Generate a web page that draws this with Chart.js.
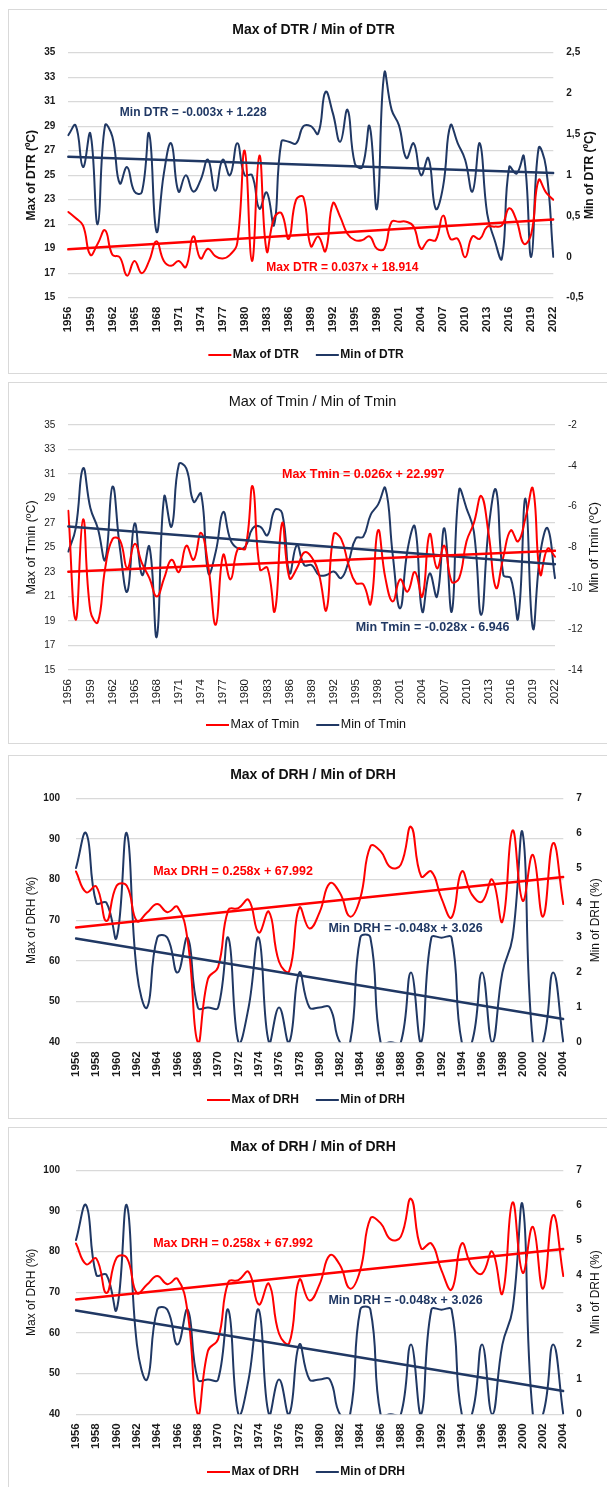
<!DOCTYPE html>
<html>
<head>
<meta charset="utf-8">
<script src="https://cdn.jsdelivr.net/npm/chart.js@4.4.0/dist/chart.umd.min.js"></script>
<style>
  html, body { margin: 0; padding: 0; background: #fff; }
  body { width: 607px; height: 1487px; position: relative; overflow: hidden; font-family: "Liberation Sans", Arial, sans-serif; }
  .panel { position: absolute; left: 8px; width: 600px; border: 1px solid #d9d9d9; box-sizing: border-box; background: #fff; }
  .panel canvas { position: absolute; left: 0; top: 0; }
</style>
</head>
<body>
<div class="panel" style="top:9px;height:365px"><canvas id="c1" width="598" height="363"></canvas></div>
<div class="panel" style="top:382px;height:362px"><canvas id="c2" width="598" height="360"></canvas></div>
<div class="panel" style="top:755px;height:364px"><canvas id="c3" width="598" height="362"></canvas></div>
<div class="panel" style="top:1127px;height:364px"><canvas id="c4" width="598" height="362"></canvas></div>

<script>
// ---------------- DATA ----------------
const yearsDTR = [];
for (let y = 1956; y <= 2022; y++) yearsDTR.push(String(y));
const yearsDRH = [];
for (let y = 1956; y <= 2004; y++) yearsDRH.push(String(y));

// Panel 1: Max of DTR (left axis, ºC) / Min of DTR (right axis, ºC)
const maxDTR = [22.0, 21.5, 20.9, 18.5, 19.4, 20.5, 18.5, 18.3, 16.8, 18.0,
                17.0, 18.0, 19.6, 18.0, 17.6, 18.0, 17.5, 20.0, 18.2, 19.0,
                18.4, 18.2, 18.5, 19.5, 27.0, 18.0, 26.6, 18.8, 21.5, 21.9,
                19.8, 23.0, 23.2, 19.2, 20.0, 18.8, 22.7, 21.6, 20.2, 19.7,
                19.7, 20.0, 19.0, 19.0, 21.2, 21.2, 21.2, 20.8, 19.0, 19.7,
                19.7, 21.7, 19.8, 19.8, 18.3, 20.0, 19.8, 20.8, 20.8, 20.9,
                22.3, 21.3, 19.4, 20.2, 24.6, 23.6, 23.0];
const minDTR = [1.49, 1.61, 1.10, 1.51, 0.40, 1.61, 1.47, 0.90, 1.10, 0.80,
                0.79, 1.51, 0.31, 1.02, 1.39, 0.80, 1.00, 0.80, 0.94, 1.19,
                0.81, 1.19, 1.00, 1.39, 1.00, 1.00, 0.59, 0.79, 0.39, 1.41,
                1.41, 1.39, 1.60, 1.60, 1.51, 2.02, 1.76, 1.41, 1.80, 1.14,
                1.10, 1.60, 0.59, 2.25, 1.80, 1.61, 1.21, 1.39, 1.00, 1.21,
                0.59, 0.86, 1.61, 1.39, 1.19, 0.80, 1.39, 0.53, 0.21, -0.02,
                1.10, 1.02, 1.23, 0.00, 1.33, 1.10, 0.00];
const maxDTRTrend = [18.95, 21.39];   // trend line values at 1956 and 2022
const minDTRTrend = [1.225, 1.027];

// Panel 2: Max of Tmin (left axis) / Min of Tmin (right axis)
const maxTmin = [28.0, 19.1, 27.3, 19.8, 18.9, 23.3, 25.7, 25.6, 23.3, 25.3,
                 23.7, 22.5, 21.0, 22.5, 24.0, 23.0, 25.15, 24.0, 26.2, 23.4,
                 18.7, 24.4, 22.4, 24.9, 24.9, 30.0, 23.2, 23.35, 19.8, 27.0,
                 22.5, 23.3, 24.6, 24.2, 22.8, 19.9, 26.1, 25.7, 23.6, 22.1,
                 22.0, 20.4, 26.4, 22.5, 20.6, 22.4, 21.4, 23.0, 21.0, 26.1,
                 23.3, 25.15, 22.2, 22.5, 25.5, 27.0, 29.2, 26.1, 21.7, 24.25,
                 26.4, 25.5, 27.4, 29.8, 22.8, 24.9, 24.25];
const minTmin = [-8.2, -7.06, -4.12, -6.08, -7.06, -8.6, -5.02, -8.04, -10.16, -6.82,
                 -9.35, -7.96, -12.37, -5.51, -6.98, -3.92, -4.12, -5.76, -5.36, -9.26,
                 -8.2, -6.26, -7.64, -8.04, -7.96, -7.06, -6.98, -7.4, -6.16, -6.32,
                 -9.26, -7.88, -8.86, -8.86, -9.35, -9.35, -9.18, -9.5, -8.7, -7.55,
                 -7.47, -6.4, -5.9, -5.1, -8.37, -10.98, -8.12, -6.98, -11.14, -9.27,
                 -10.4, -7.06, -11.14, -5.18, -6.08, -7.22, -11.3, -7.06, -5.18, -9.35,
                 -9.5, -11.47, -5.6, -11.96, -8.3, -7.06, -9.5];
const maxTminTrend = [23.02, 24.74];
const minTminTrend = [-6.97, -8.82];

// Panels 3 & 4: Max of DRH (left axis, %) / Min of DRH (right axis, %)
const maxDRH = [82, 76.9, 78.3, 69.8, 78.5, 78.5, 69.8, 71.9, 74, 72,
                73.3, 65, 40, 55.6, 58.5, 72.5, 73, 75, 67, 72.1,
                59.8, 57.5, 73.1, 68, 72, 79.1, 76.7, 70.9, 75.4, 88.2,
                87, 83, 83.7, 93, 80.8, 82, 75.4, 70.7, 82, 76.3,
                74.6, 80, 69.7, 92.1, 74.8, 86.1, 70.9, 89, 74];
const minDRH = [5, 6, 4, 4, 3, 6, 2, 1, 3, 3,
                2, 3, 1, 1, 1, 3, 0, 1, 3, 0,
                1, 0, 2, 1, 1, 1, 0, 0, 3, 3,
                0, 0, 0, 2, 0, 3, 3, 3, 0, 0,
                2, 0, 2, 3, 6, 0, 0, 2, 0];
const maxDRHTrend = [68.25, 80.63];
const minDRHTrend = [2.98, 0.67];

// ---------------- DRAWING ----------------
const RED = '#ff0000';
const NAVY = '#203864';
const FONT = "'Liberation Sans', Arial, sans-serif";
Chart.defaults.font.family = FONT;
Chart.defaults.color = '#1a1a1a';

const decorPlugin = {
  id: 'decor',
  afterDraw(chart, args, o) {
    const ctx = chart.ctx, a = chart.chartArea;
    ctx.save();
    ctx.textAlign = 'center';
    ctx.textBaseline = 'middle';
    ctx.fillStyle = '#111';
    ctx.font = o.titleFont;
    ctx.fillText(o.title, o.titleX, o.titleY);

    const cy = (a.top + a.bottom) / 2;
    ctx.font = o.axisFont;
    [[o.leftTitle, o.leftX], [o.rightTitle, o.rightX]].forEach(([t, x]) => {
      ctx.save();
      ctx.translate(x, cy);
      ctx.rotate(-Math.PI / 2);
      ctx.fillText(t, 0, 0);
      ctx.restore();
    });

    ctx.font = o.eqFont;
    o.equations.forEach(e => {
      ctx.fillStyle = e.color;
      ctx.fillText(e.text, chart.scales.x.getPixelForValue(e.xi), chart.scales[e.axis].getPixelForValue(e.v));
    });

    ctx.font = o.legendFont;
    ctx.textAlign = 'left';
    const items = [
      { text: chart.data.datasets[2].label, color: RED },
      { text: chart.data.datasets[3].label, color: NAVY }
    ];
    const L = 23, G = 1.5, S = 17;
    const widths = items.map(it => L + G + ctx.measureText(it.text).width);
    let x = o.legendCX - (widths[0] + S + widths[1]) / 2;
    items.forEach((it, i) => {
      ctx.strokeStyle = it.color;
      ctx.lineWidth = 2;
      ctx.beginPath();
      ctx.moveTo(x, o.legendY);
      ctx.lineTo(x + L, o.legendY);
      ctx.stroke();
      ctx.fillStyle = '#111';
      ctx.fillText(it.text, x + L + G, o.legendY);
      x += widths[i] + S;
    });
    ctx.restore();
  }
};

function trendSeries(t, n) {
  return Array.from({ length: n }, (_, i) => i === 0 ? t[0] : (i === n - 1 ? t[1] : null));
}

function buildChart(id, o) {
  const canvas = document.getElementById(id);
  const W = canvas.width, H = canvas.height;
  const n = o.labels.length;
  const fmt = v => String(v).replace('.', ',');
  return new Chart(canvas, {
    type: 'line',
    data: {
      labels: o.labels,
      datasets: [
        { label: 'maxTrend', data: trendSeries(o.maxTrend, n), yAxisID: 'y', borderColor: RED, borderWidth: 2.5, tension: 0, spanGaps: true, pointRadius: 0 },
        { label: 'minTrend', data: trendSeries(o.minTrend, n), yAxisID: 'y1', borderColor: NAVY, borderWidth: 2.5, tension: 0, spanGaps: true, pointRadius: 0 },
        { label: o.maxName, data: o.maxData, yAxisID: 'y', borderColor: RED, borderWidth: 2, tension: 0.45, pointRadius: 0 },
        { label: o.minName, data: o.minData, yAxisID: 'y1', borderColor: NAVY, borderWidth: 2, tension: 0.45, pointRadius: 0 }
      ]
    },
    options: {
      responsive: false,
      animation: false,
      devicePixelRatio: 1,
      events: [],
      layout: { padding: { top: o.area.t, left: 0, right: 0, bottom: 0 } },
      elements: { line: { capBezierPoints: false, borderCapStyle: 'round', borderJoinStyle: 'round' } },
      plugins: {
        legend: { display: false },
        title: { display: false },
        tooltip: { enabled: false },
        decor: o.decor
      },
      scales: {
        x: {
          type: 'category',
          grid: { display: false, drawTicks: false },
          border: { display: false },
          ticks: {
            autoSkip: false, minRotation: 90, maxRotation: 90, padding: 9,
            font: o.xFont,
            callback: function (val, idx) { return idx % o.step === 0 ? this.getLabelForValue(val) : ''; }
          },
          afterFit: s => { s.height = H - o.area.b; }
        },
        y: {
          position: 'left', min: o.yMin, max: o.yMax,
          grid: { color: '#d9d9d9', lineWidth: 1.2, drawTicks: false },
          border: { display: false },
          ticks: { stepSize: o.yStep, padding: o.yPad, font: o.yFont },
          afterFit: s => { s.width = o.area.l; }
        },
        y1: {
          position: 'right', min: o.y1Min, max: o.y1Max,
          grid: { display: false, drawOnChartArea: false, drawTicks: false },
          border: { display: false },
          ticks: { stepSize: o.y1Step, padding: 13, font: o.yFont, callback: v => fmt(v) },
          afterFit: s => { s.width = W - o.area.r; }
        }
      }
    },
    plugins: [decorPlugin]
  });
}

// Panel 1
buildChart('c1', {
  labels: yearsDTR, step: 3,
  maxName: 'Max of DTR', minName: 'Min of DTR',
  maxData: maxDTR, minData: minDTR, maxTrend: maxDTRTrend, minTrend: minDTRTrend,
  yMin: 15, yMax: 35, yStep: 2, y1Min: -0.5, y1Max: 2.5, y1Step: 0.5, yPad: 13,
  area: { l: 59.3, r: 544.3, t: 42.7, b: 287.7 },
  xFont: { size: 11.5, weight: 'bold' }, yFont: { size: 10, weight: 'bold' },
  decor: {
    title: 'Max of DTR / Min of DTR', titleFont: "bold 14px " + FONT, titleX: 304.5, titleY: 20,
    leftTitle: 'Max of DTR (ºC)', rightTitle: 'Min of DTR (ºC)', axisFont: "bold 12px " + FONT, leftX: 23, rightX: 581,
    eqFont: "bold 12px " + FONT,
    equations: [
      { text: 'Min DTR = -0.003x + 1.228', color: NAVY, xi: 17.0, axis: 'y1', v: 1.76 },
      { text: 'Max DTR = 0.037x + 18.914', color: RED, xi: 37.3, axis: 'y', v: 17.42 }
    ],
    legendFont: "bold 12px " + FONT, legendCX: 297, legendY: 345
  }
});

// Panel 2
buildChart('c2', {
  labels: yearsDTR, step: 3,
  maxName: 'Max of Tmin', minName: 'Min of Tmin',
  maxData: maxTmin, minData: minTmin, maxTrend: maxTminTrend, minTrend: minTminTrend,
  yMin: 15, yMax: 35, yStep: 2, y1Min: -14, y1Max: -2, y1Step: 2, yPad: 13,
  area: { l: 59.3, r: 546, t: 42, b: 287 },
  xFont: { size: 11.5 }, yFont: { size: 10 },
  decor: {
    title: 'Max of Tmin / Min of Tmin', titleFont: "14.5px " + FONT, titleX: 303.5, titleY: 19,
    leftTitle: 'Max of Tmin (ºC)', rightTitle: 'Min of Tmin (ºC)', axisFont: "12.5px " + FONT, leftX: 23, rightX: 586,
    eqFont: "bold 12.5px " + FONT,
    equations: [
      { text: 'Max Tmin = 0.026x + 22.997', color: RED, xi: 40.0, axis: 'y', v: 30.92 },
      { text: 'Min Tmin = -0.028x - 6.946', color: NAVY, xi: 49.4, axis: 'y1', v: -11.94 }
    ],
    legendFont: "12.5px " + FONT, legendCX: 297, legendY: 342
  }
});

// Panels 3 and 4 (identical)
['c3', 'c4'].forEach(id => buildChart(id, {
  labels: yearsDRH, step: 2,
  maxName: 'Max of DRH', minName: 'Min of DRH',
  maxData: maxDRH, minData: minDRH, maxTrend: maxDRHTrend, minTrend: minDRHTrend,
  yMin: 40, yMax: 100, yStep: 10, y1Min: 0, y1Max: 7, y1Step: 1, yPad: 16,
  area: { l: 67, r: 554.3, t: 42.3, b: 286.3 },
  xFont: { size: 11.5, weight: 'bold' }, yFont: { size: 10, weight: 'bold' },
  decor: {
    title: 'Max of DRH / Min of DRH', titleFont: "bold 14px " + FONT, titleX: 304, titleY: 19,
    leftTitle: 'Max of DRH (%)', rightTitle: 'Min of DRH (%)', axisFont: "12px " + FONT, leftX: 23, rightX: 587,
    eqFont: "bold 12.5px " + FONT,
    equations: [
      { text: 'Max DRH = 0.258x + 67.992', color: RED, xi: 15.47, axis: 'y', v: 81.88 },
      { text: 'Min DRH = -0.048x + 3.026', color: NAVY, xi: 32.46, axis: 'y1', v: 3.25 }
    ],
    legendFont: "bold 12px " + FONT, legendCX: 297, legendY: 344
  }
}));
</script>
</body>
</html>
